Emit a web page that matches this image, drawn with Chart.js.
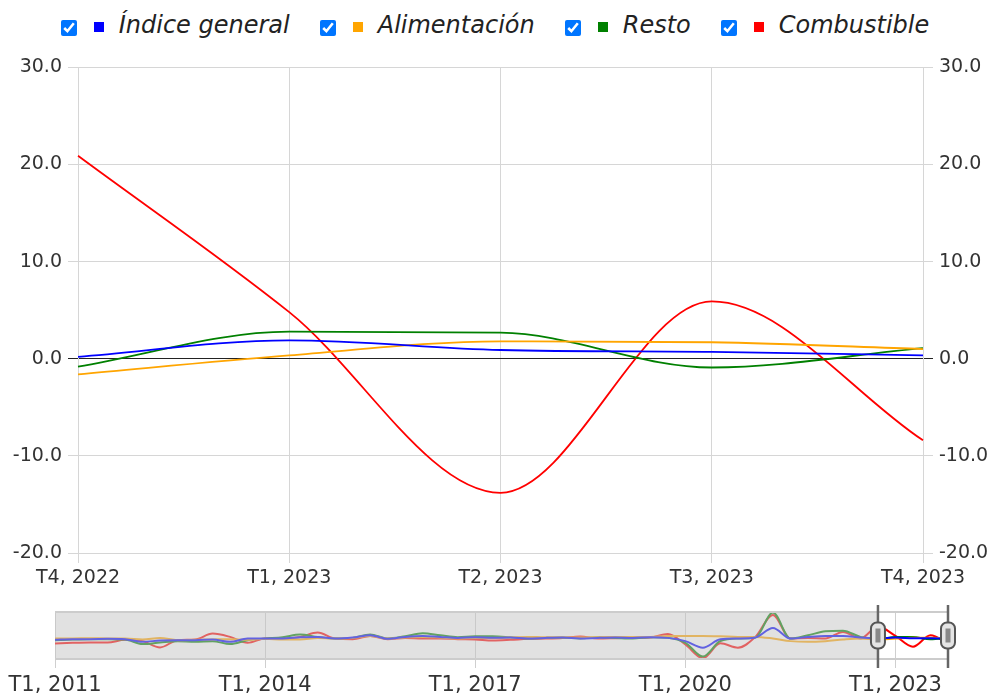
<!DOCTYPE html>
<html>
<head>
<meta charset="utf-8">
<script src="https://cdn.jsdelivr.net/npm/chart.js@4.4.1/dist/chart.umd.min.js"></script>
<style>
  body { margin: 0; background: #fff; font-family: 'DejaVu Sans', sans-serif; }
  #wrap { position: relative; width: 990px; height: 697px; overflow: hidden; }
  #legend { position: absolute; top: 7px; left: 0; width: 990px; height: 36px;
            display: flex; justify-content: center; align-items: center; }
  .item { display: flex; align-items: center; margin: 0 15px; }
  .item input { width: 16px; height: 16px; margin: 5px 17px 0 0; }
  .sw { width: 10px; height: 10px; margin: 3px 15px 0 0; }
  .item span.t { font-style: italic; font-size: 24px; color: #222; }
  #main { position: absolute; left: 0; top: 50px; }
  #nav { position: absolute; left: 0; top: 600px; }
</style>
</head>
<body>
<div id="wrap">
  <div id="legend"></div>
  <canvas id="main" width="990" height="550"></canvas>
  <canvas id="nav" width="990" height="97"></canvas>
</div>
<script>
// quarters T1 2011 .. T4 2023
const quarters = [];
for (let y = 2011; y <= 2023; y++) {
    for (let q = 1; q <= 4; q++) quarters.push('T' + q + ', ' + y);
}

const indiceGeneral = [
    -2.0, -0.8, -0.8, -0.3, -0.8, -5.4, -3.1, -2.5, -2.5, -1.4, -5.4, 0.3,
    0.3, 0.3, 2.5, 3.1, 0.3, 2.0, 5.9, -0.3, 3.1, 4.8, 3.1, 1.4,
    2.5, 1.6, 2.0, 0.3, 1.4, 2.0, 0.3, 1.4, 2.0, 1.4, 2.5, 1.4,
    -4.2, -15.5, -1.0, 0.3, 2.0, 18.4, 0.3, 3.1, 4.8, 4.8, 2.0,
    0.2, 1.9, 0.9, 0.7, 0.35
];
const alimentacion = [
    0.3, 0.3, 0.8, 0.3, 0.3, -1.4, 1.4, -2.5, -2.0, -1.4, -0.8, -2.0,
    -0.3, -1.4, -1.4, 1.4, 0.3, 1.4, 4.8, 0.3, 2.0, 3.1, 2.0, 0.3,
    1.4, 1.4, 2.0, 3.1, 2.5, 2.5, 2.0, 2.5, 3.1, 3.1, 3.1, 4.8,
    4.8, 4.8, 4.2, 3.1, 3.1, 0.3, -4.2, -5.4, -4.2, -1.4, 0.3,
    -1.6, 0.35, 1.8, 1.7, 1.0
];
const resto = [
    -2.5, -1.4, -0.8, -0.8, -1.4, -9.3, -6.5, -4.2, -5.4, -4.2, -9.3, -2.5,
    0.3, 2.5, 7.1, 3.1, 0.3, 1.4, 7.1, 0.3, 4.2, 9.3, 5.9, 2.5,
    4.2, 4.2, 2.5, 0.3, 1.4, 2.0, 0.3, 2.5, 1.4, 0.3, 2.5, 1.4,
    -7.1, -30.8, -4.0, 0.3, 2.0, 45.0, 0.3, 5.9, 12.7, 13.8, 3.1,
    -0.8, 2.8, 2.7, -0.9, 1.1
];
const combustible = [
    -8.2, -7.1, -6.5, -6.5, -2.0, -4.2, -15.0, -2.5, -1.4, 8.8, 3.1, -7.1,
    0.3, 0.3, 3.1, 10.5, 0.3, -0.8, 4.8, -0.8, 1.4, 0.3, 0.3, -0.8,
    -1.4, -3.1, -2.0, -0.3, 0.3, 1.4, 3.7, 0.3, 0.8, 1.4, 2.0, 8.2,
    -9.9, -33.6, -8.0, -15.5, 3.1, 41.0, 0.3, 1.4, 0.3, 11.6, 0.3,
    20.9, 4.8, -13.8, 5.9, -8.4
];

const seriesNames = ['Índice general', 'Alimentación', 'Resto', 'Combustible'];
const seriesColors = ['#0000ff', '#ffa500', '#008000', '#ff0000'];
const seriesData = [indiceGeneral, alimentacion, resto, combustible];

const yTicks = [-20, -10, 0, 10, 20, 30];
const shown = 5; // quarters in the zoomed window

const font = { family: "'DejaVu Sans', sans-serif", size: 19 };
const navFont = { family: "'DejaVu Sans', sans-serif", size: 21 };
const gridColor = '#d6d6d6';

// html legend with checkboxes
const legend = document.getElementById('legend');
seriesNames.forEach((name, i) => {
    const item = document.createElement('label');
    item.className = 'item';
    item.innerHTML = '<input type="checkbox" checked><span class="sw" style="background:' +
        seriesColors[i] + '"></span><span class="t">' + name + '</span>';
    legend.appendChild(item);
});

function makeSets(slice, width) {
    return seriesNames.map((name, i) => ({
        label: name,
        data: slice ? seriesData[i].slice(-shown) : seriesData[i],
        borderColor: seriesColors[i],
        borderWidth: width,
        pointRadius: 0,
        fill: false,
        cubicInterpolationMode: 'monotone'
    }));
}

const yScale = (pos, width) => ({
    position: pos,
    min: yTicks[0],
    max: yTicks[yTicks.length - 1],
    afterBuildTicks: (s) => { s.ticks = yTicks.map(v => ({ value: v })); },
    ticks: { color: '#333', font: font, padding: 6, callback: v => v.toFixed(1) },
    grid: {
        drawOnChartArea: pos === 'left',
        tickLength: 10,
        color: ctx => (ctx.tick && ctx.tick.value === 0 ? '#222' : gridColor)
    },
    border: { color: gridColor },
    afterFit: (s) => { s.width = width; }
});

const mainChart = new Chart(document.getElementById('main'), {
    type: 'line',
    data: { labels: quarters.slice(-shown), datasets: makeSets(true, 1.8) },
    options: {
        responsive: false,
        animation: false,
        events: [],
        layout: { padding: { top: 17 } },
        plugins: { legend: { display: false }, tooltip: { enabled: false } },
        scales: {
            x: {
                offset: false,
                grid: { color: gridColor, tickLength: 10, offset: false },
                border: { color: gridColor },
                ticks: { color: '#333', font: font, padding: 4, maxRotation: 0 },
                afterFit: (s) => { s.height = 47; }
            },
            y: yScale('left', 78),
            y2: yScale('right', 67)
        }
    }
});

// navigator: gray mask, borders and the two handles
const navPlugin = {
    id: 'navExtras',
    afterDatasetsDraw(chart) {
        const ctx = chart.ctx;
        const a = chart.chartArea;
        const x = chart.scales.x;
        const x1 = x.getPixelForValue(quarters.length - shown);
        const x2 = x.getPixelForValue(quarters.length - 1);
        ctx.save();
        ctx.fillStyle = 'rgba(195,195,195,0.5)';
        ctx.fillRect(a.left, a.top, x1 - a.left, a.bottom - a.top);
        ctx.strokeStyle = '#cccccc';
        ctx.lineWidth = 2;
        ctx.beginPath();
        ctx.moveTo(a.left, a.top); ctx.lineTo(a.right, a.top);
        ctx.moveTo(a.left, a.bottom); ctx.lineTo(a.right, a.bottom);
        ctx.stroke();
        const mid = (a.top + a.bottom) / 2;
        [x1, x2].forEach(px => {
            ctx.strokeStyle = '#666';
            ctx.lineWidth = 2.5;
            ctx.beginPath();
            ctx.moveTo(px, a.top - 7);
            ctx.lineTo(px, a.bottom + 9);
            ctx.stroke();
            ctx.fillStyle = '#e4e4e4';
            ctx.strokeStyle = '#555';
            ctx.lineWidth = 2;
            ctx.beginPath();
            ctx.roundRect(px - 7, mid - 13, 14, 26, 6);
            ctx.fill();
            ctx.stroke();
            ctx.fillStyle = '#888';
            ctx.fillRect(px - 2.5, mid - 7, 5, 14);
        });
        ctx.restore();
    }
};

const navChart = new Chart(document.getElementById('nav'), {
    type: 'line',
    data: { labels: quarters, datasets: makeSets(false, 2) },
    options: {
        responsive: false,
        animation: false,
        events: [],
        layout: { padding: { left: 55, right: 42, top: 12, bottom: 0 } },
        plugins: { legend: { display: false }, tooltip: { enabled: false } },
        scales: {
            x: {
                offset: false,
                grid: {
                    offset: false,
                    tickLength: 9,
                    color: ctx => (ctx.index % 12 === 0 ? '#cfcfcf' : 'rgba(0,0,0,0)')
                },
                border: { display: false },
                ticks: {
                    autoSkip: false,
                    maxRotation: 0,
                    color: '#333',
                    font: navFont,
                    padding: 5,
                    callback: (v, i) => (i % 12 === 0 ? quarters[i] : '')
                },
                afterFit: (s) => { s.height = 38; }
            },
            y: { display: false, min: -35, max: 46 }
        }
    },
    plugins: [navPlugin]
});
</script>
</body>
</html>
